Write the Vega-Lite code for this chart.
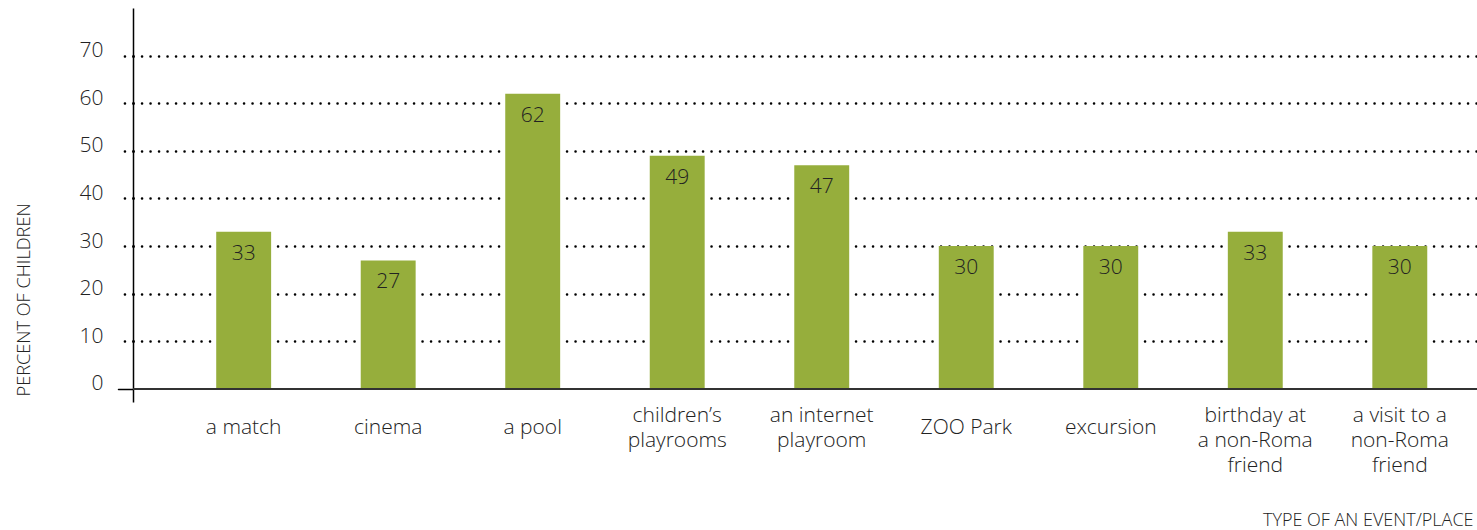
{
  "$schema": "https://vega.github.io/schema/vega-lite/v6.json",
  "width": 1344,
  "height": 394,
  "autosize": "none",
  "padding": {"left": 133, "top": 8, "right": 0, "bottom": 128},
  "background": "white",
  "config": {
    "view": {"stroke": null},
    "font": "Open Sans",
    "axis": {"labelFont": "Open Sans", "titleFont": "Open Sans", "labelColor": "#222222", "titleColor": "#222222", "titleFontWeight": 300, "labelFontWeight": 300}
  },
  "data": {
    "values": [
      {"place": "a match", "pct": 33},
      {"place": "cinema", "pct": 27},
      {"place": "a pool", "pct": 62},
      {"place": "children’s|playrooms", "pct": 49},
      {"place": "an internet|playroom", "pct": 47},
      {"place": "ZOO Park", "pct": 30},
      {"place": "excursion", "pct": 30},
      {"place": "birthday at|a non-Roma|friend", "pct": 33},
      {"place": "a visit to a|non-Roma|friend", "pct": 30}
    ]
  },
  "encoding": {
    "x": {
      "field": "place",
      "type": "nominal",
      "sort": null,
      "scale": {"paddingInner": 0, "paddingOuter": 0.15, "align": 0.886},
      "axis": {
        "title": "TYPE OF AN EVENT/PLACE",
        "titleFontSize": 18,
        "titleAnchor": null,
        "titleAlign": "right",
        "titleX": 1340,
        "titleBaseline": "alphabetic",
        "titleY": 123,
        "labelAngle": 0,
        "labelFontSize": 21,
        "labelLineHeight": 25,
        "labelPadding": {"condition": {"test": "indexof(datum.label, '|') < 0", "value": 14}, "value": 2},
        "labelBaseline": "top",
        "labelExpr": "split(datum.label, '|')",
        "ticks": false,
        "domain": false
      }
    },
    "y": {
      "field": "pct",
      "type": "quantitative",
      "scale": {"domain": [-2.73, 80], "nice": false, "zero": false},
      "axis": {
        "title": "PERCENT OF CHILDREN",
        "titleFontSize": 18.2,
        "titleAngle": 270,
        "titleAlign": "left",
        "titleBaseline": "alphabetic",
        "titleAnchor": null,
        "titleX": -104,
        "titleY": 388,
        "values": [0, 10, 20, 30, 40, 50, 60, 70],
        "labelFontSize": 21,
        "labelBaseline": "alphabetic",
        "labelOffset": 1,
        "labelPadding": 15,
        "tickSize": 15,
        "tickColor": "#000000",
        "tickWidth": {"condition": {"test": "datum.value === 0", "value": 1.5}, "value": 2.5},
        "tickCap": "round",
        "tickDash": {"condition": {"test": "datum.value === 0", "value": []}, "value": [0.1, 8.4]},
        "gridColor": {"condition": {"test": "datum.value === 0", "value": "transparent"}, "value": "#000000"},
        "gridWidth": 2.5,
        "gridCap": "round",
        "gridDash": [0.1, 8.4],
        "domainColor": "#000000",
        "domainWidth": 1.5
      }
    }
  },
  "layer": [
    {
      "mark": {"type": "bar", "color": "white", "width": {"band": 0.44}}
    },
    {
      "mark": {"type": "bar", "color": "#96ae3c", "width": {"band": 0.38}}
    },
    {
      "mark": {"type": "rule", "color": "#333333", "strokeWidth": 1.5},
      "encoding": {"x": {"value": 0}, "x2": {"value": 1344}, "y": {"datum": 0}}
    },
    {
      "mark": {"type": "text", "dy": 22, "baseline": "middle", "fontSize": 21, "fontWeight": 300, "color": "#222222", "font": "Open Sans"},
      "encoding": {"text": {"field": "pct", "type": "quantitative"}}
    }
  ]
}
